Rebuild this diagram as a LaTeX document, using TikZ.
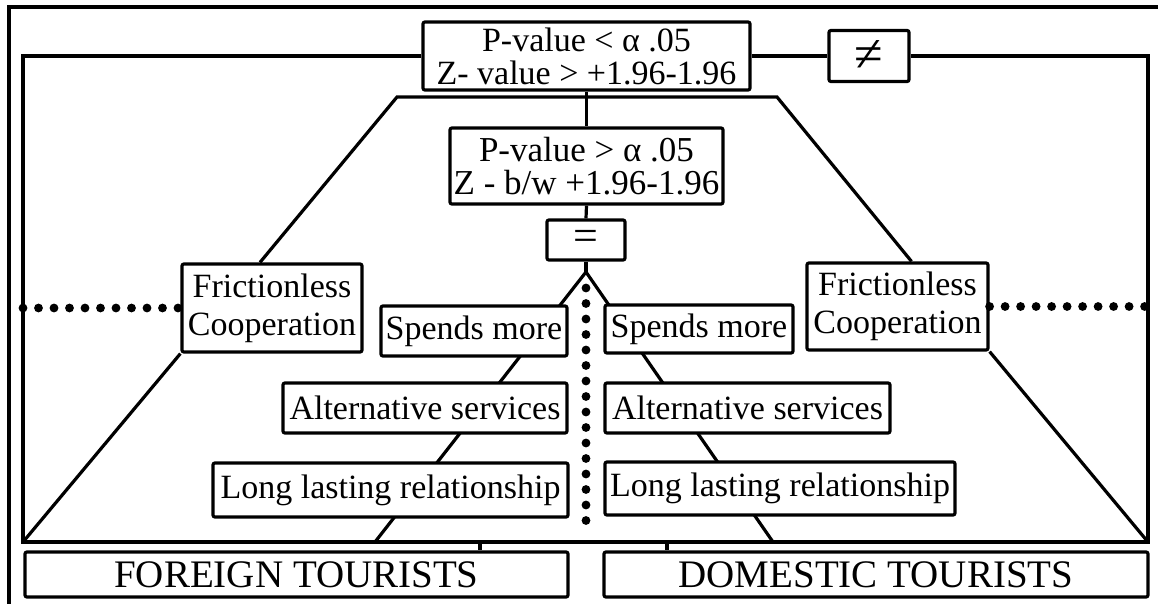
\documentclass[tikz,border=0pt]{standalone}
\usepackage{fontspec}
\setmainfont{Liberation Serif}

\begin{document}
\begin{tikzpicture}[x=0.5pt,y=-0.5pt,
  box/.style={draw,line width=1.6pt,rounded corners=1pt,fill=white,inner sep=0pt,align=center,font=\fontsize{17}{19}\selectfont},
  link/.style={line width=1.6pt},
  dots/.style={line width=4.4pt,line cap=round,dash pattern=on 0pt off 7.75pt}]
  \useasboundingbox (0,0) rectangle (1158,604);
  \fill[white] (0,0) rectangle (1158,604);
  \draw[line width=1.8pt] (1158,7) -- (9,7) -- (9,604);

  \coordinate (bl) at (23,542);
  \coordinate (br) at (1148,542);
  \coordinate (tl) at (397,97);
  \coordinate (tr) at (777,97);
  \coordinate (apex) at (586,272);
  \coordinate (footL) at (375,542);
  \coordinate (footR) at (773,542);
  \coordinate (jL) at (480,542);
  \coordinate (jR) at (667,542);

  \draw[link] (apex) -- (footL);
  \draw[link] (apex) -- (footR);
  \draw[dots] (586,288) -- (586,530);

  \node[box,minimum width=163.5pt,minimum height=34pt,font=\fontsize{17}{16.5}\selectfont] (pless) at (586.5,56) {P-value < α .05\\Z- value > +1.96-1.96};
  \node[box,minimum width=40pt,minimum height=25.5pt,font=\fontsize{26}{26}\selectfont] (neq) at (869,56) {≠};
  \node[box,minimum width=136.5pt,minimum height=38pt,font=\fontsize{17.5}{16.5}\selectfont] (pmore) at (586.5,166) {P-value > α .05\\Z - b/w +1.96-1.96};
  \node[box,minimum width=39pt,minimum height=20pt,font=\fontsize{22}{22}\selectfont] (eq) at (586,240) {=};

  \node[box,minimum width=90pt,minimum height=44pt] (fricL) at (272,308) {Frictionless\\Cooperation};
  \node[box,minimum width=90.5pt,minimum height=43.5pt] (fricR) at (897.5,306.5) {Frictionless\\Cooperation};
  \node[box,minimum width=93pt,minimum height=25pt] (spL) at (474,331) {Spends more};
  \node[box,minimum width=94pt,minimum height=24pt] (spR) at (699,329) {Spends more};
  \node[box,minimum width=142pt,minimum height=25pt] (altL) at (425,408) {Alternative services};
  \node[box,minimum width=142.5pt,minimum height=25pt] (altR) at (747.5,408) {Alternative services};
  \node[box,minimum width=177.5pt,minimum height=27pt] (longL) at (390.5,490) {Long lasting relationship};
  \node[box,minimum width=175pt,minimum height=26.5pt] (longR) at (780,488.5) {Long lasting relationship};

  \node[box,minimum width=271.5pt,minimum height=22.5pt,font=\fontsize{19.5}{20}\selectfont] (fgn) at (296.5,574.5) {FOREIGN TOURISTS};
  \node[box,minimum width=272pt,minimum height=22.5pt,font=\fontsize{19.5}{20}\selectfont] (dom) at (876,574.5) {DOMESTIC TOURISTS};

  \draw[link] (pless.west) -| (bl) -- (br) |- (neq.east);
  \draw[link] (pless.east) -- (neq.west);
  \draw[link] ([xshift=-6pt]fricL.north) -- (tl) -- (tr) -- ([xshift=7pt]fricR.north);
  \draw[link] (fricL.south west) -- (bl);
  \draw[link] (fricR.south east) -- (br);
  \draw[dots] (fricL.west -| bl) -- (fricL.west);
  \draw[dots] (fricR.east) -- (fricR.east -| br);
  \draw[link] (pless.south) -- (pmore.north);
  \draw[link] (pmore.south) -- (eq.north);
  \draw[link] (eq.south) -- (apex);
  \draw[link] (jL) -- (jL |- fgn.north);
  \draw[link] (jR) -- (jR |- dom.north);
\end{tikzpicture}
\end{document}
